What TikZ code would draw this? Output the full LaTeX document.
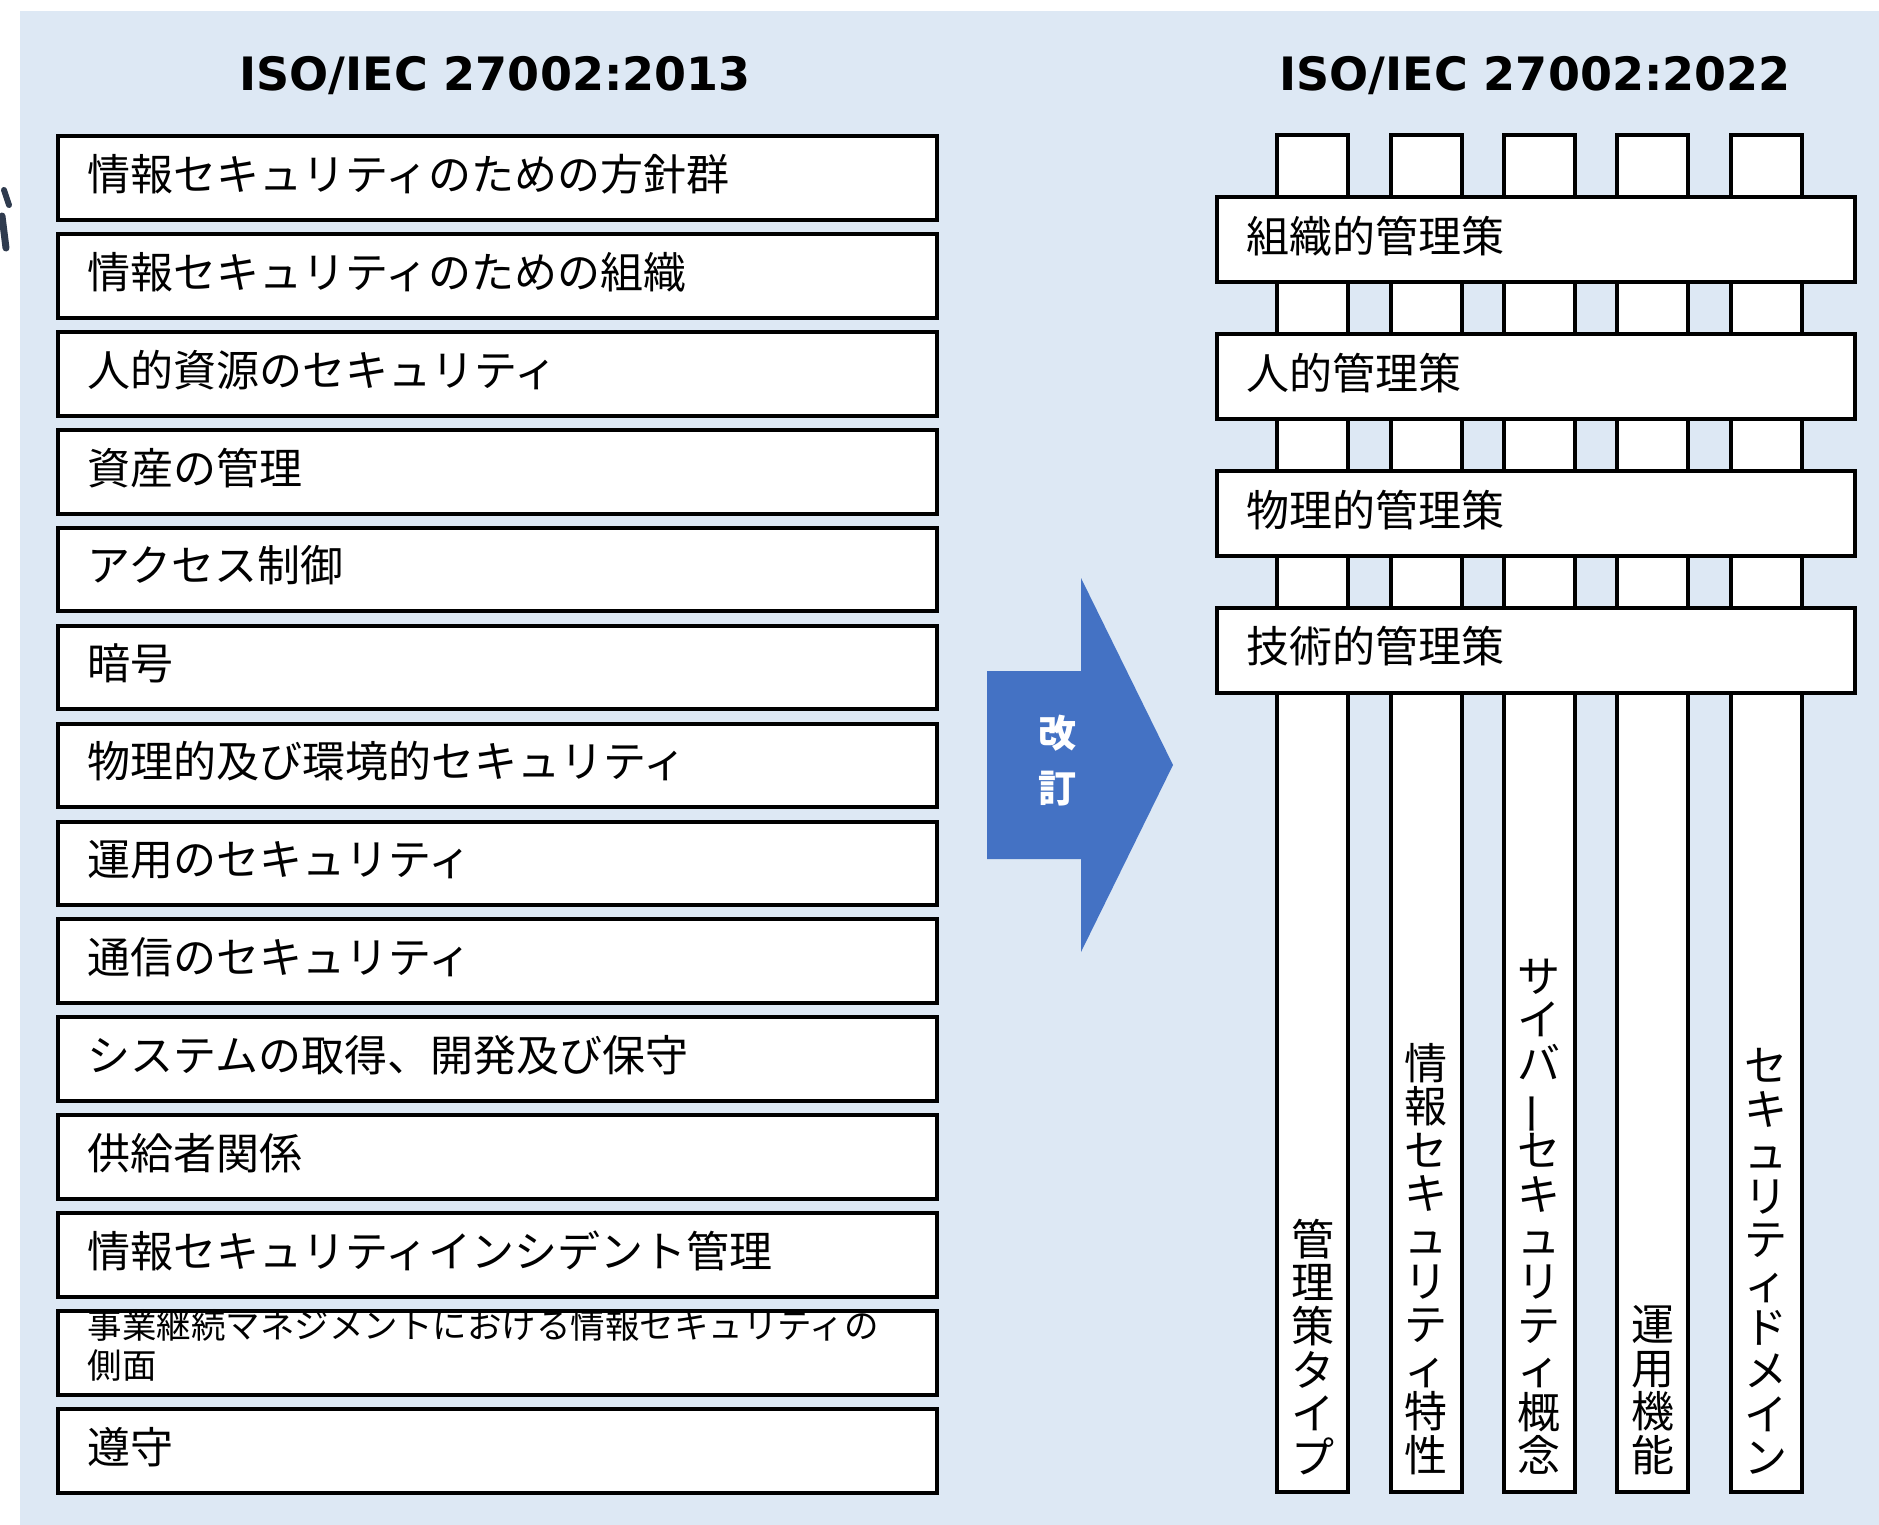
\documentclass[tikz,border=0pt]{standalone}
\usepackage{fontspec}
\setmainfont{Noto Sans CJK JP}
\newfontfamily\titlefont{DejaVu Sans}
\definecolor{bgblue}{HTML}{DDE8F4}
\definecolor{arrowblue}{HTML}{4472C4}
\definecolor{fragcol}{HTML}{2F3B4E}
\tikzset{
  lbox/.style={draw=black, fill=white, line width=4pt, rectangle, inner sep=0pt,
    minimum width=879pt, minimum height=83.6pt, anchor=north west},
  rbar/.style={draw=black, fill=white, line width=4pt, rectangle, inner sep=0pt,
    minimum width=637.7pt, minimum height=85pt, anchor=north west},
  pillar/.style={draw=black, fill=white, line width=4pt, rectangle, inner sep=0pt,
    minimum width=71pt, minimum height=1357pt, anchor=north west},
  btext/.style={anchor=west, inner sep=0pt, font=\fontsize{43}{43}\selectfont, text=black},
  small2/.style={anchor=north west, inner sep=0pt, align=left,
    font=\fontsize{34.5}{40}\selectfont, text=black},
  vtext/.style={anchor=south, inner sep=0pt, align=center, text=black,
    font=\fontsize{43}{43.6}\selectfont},
  title/.style={inner sep=0pt, font=\titlefont\bfseries\fontsize{46}{46}\selectfont, text=black},
  arrowtext/.style={inner sep=0pt, align=center, text=white,
    font=\bfseries\fontsize{38}{55}\selectfont},
}
\lineskiplimit=-100pt
\begin{document}
\lineskiplimit=-100pt
\begin{tikzpicture}[x=1pt,y=-1pt]
\useasboundingbox (0,0) rectangle (1879,1525);
\fill[bgblue] (20,11) rectangle (1879,1525);
% clipped fragment at the left edge
\draw[fragcol, line width=6pt, line cap=round] (4,190) -- (9,205);
\draw[fragcol, line width=7pt, line cap=round] (2,216) -- (6,248);

% titles
\node[title] (t1) at (495,76) {ISO/IEC 27002:2013};
\node[title] (t2) at (1535,76) {ISO/IEC 27002:2022};

% left boxes
\foreach \i/\txt in {1/情報セキュリティのための方針群,
  2/情報セキュリティのための組織,
  3/人的資源のセキュリティ,
  4/資産の管理,
  5/アクセス制御,
  6/暗号,
  7/物理的及び環境的セキュリティ,
  8/運用のセキュリティ,
  9/通信のセキュリティ,
  10/システムの取得、開発及び保守,
  11/供給者関係,
  12/情報セキュリティインシデント管理,
  14/遵守}{
  \node[lbox] (L\i) at (56.3, {134.2+97.9*(\i-1)}) {};
  \node[btext] (LT\i) at ([xshift=31pt, yshift=4pt]L\i.west) {\txt};
}
\node[lbox] (L13) at (56.3, {134.2+97.9*12}) {};
\node[small2] (LT13) at ([xshift=31pt, yshift=0pt]L13.north west) {事業継続マネジメントにおける情報セキュリティの\\側面};

% arrow
\fill[arrowblue] (987,671) -- (1081,671) -- (1081,578) -- (1173,765) -- (1081,952) -- (1081,859) -- (987,859) -- cycle;
\node[arrowtext] (rev) at (1057,760.5) {改\\訂};

% pillars
\foreach \i in {1,...,5}{
  \node[pillar] (P\i) at ({1275.3+113.3*(\i-1)}, 133) {};
}
% bars
\foreach \i/\txt in {1/組織的管理策, 2/人的管理策, 3/物理的管理策, 4/技術的管理策}{
  \node[rbar] (B\i) at (1215.3, {195.3+136.9*(\i-1)}) {};
  \node[btext] (BT\i) at ([xshift=31pt, yshift=4pt]B\i.west) {\txt};
}
% vertical texts
\node[vtext] (V1) at ([yshift=19pt]P1.south) {管\\理\\策\\タ\\イ\\プ};
\node[vtext] (V2) at ([yshift=19pt]P2.south) {情\\報\\セ\\キ\\ュ\\リ\\テ\\ィ\\特\\性};
\node[vtext] (V3) at ([yshift=19pt]P3.south) {サ\\イ\\バ\\\rotatebox[origin=c]{90}{ー}\\セ\\キ\\ュ\\リ\\テ\\ィ\\概\\念};
\node[vtext] (V4) at ([yshift=19pt]P4.south) {運\\用\\機\\能};
\node[vtext] (V5) at ([yshift=19pt]P5.south) {セ\\キ\\ュ\\リ\\テ\\ィ\\ド\\メ\\イ\\ン};
\end{tikzpicture}
\end{document}
